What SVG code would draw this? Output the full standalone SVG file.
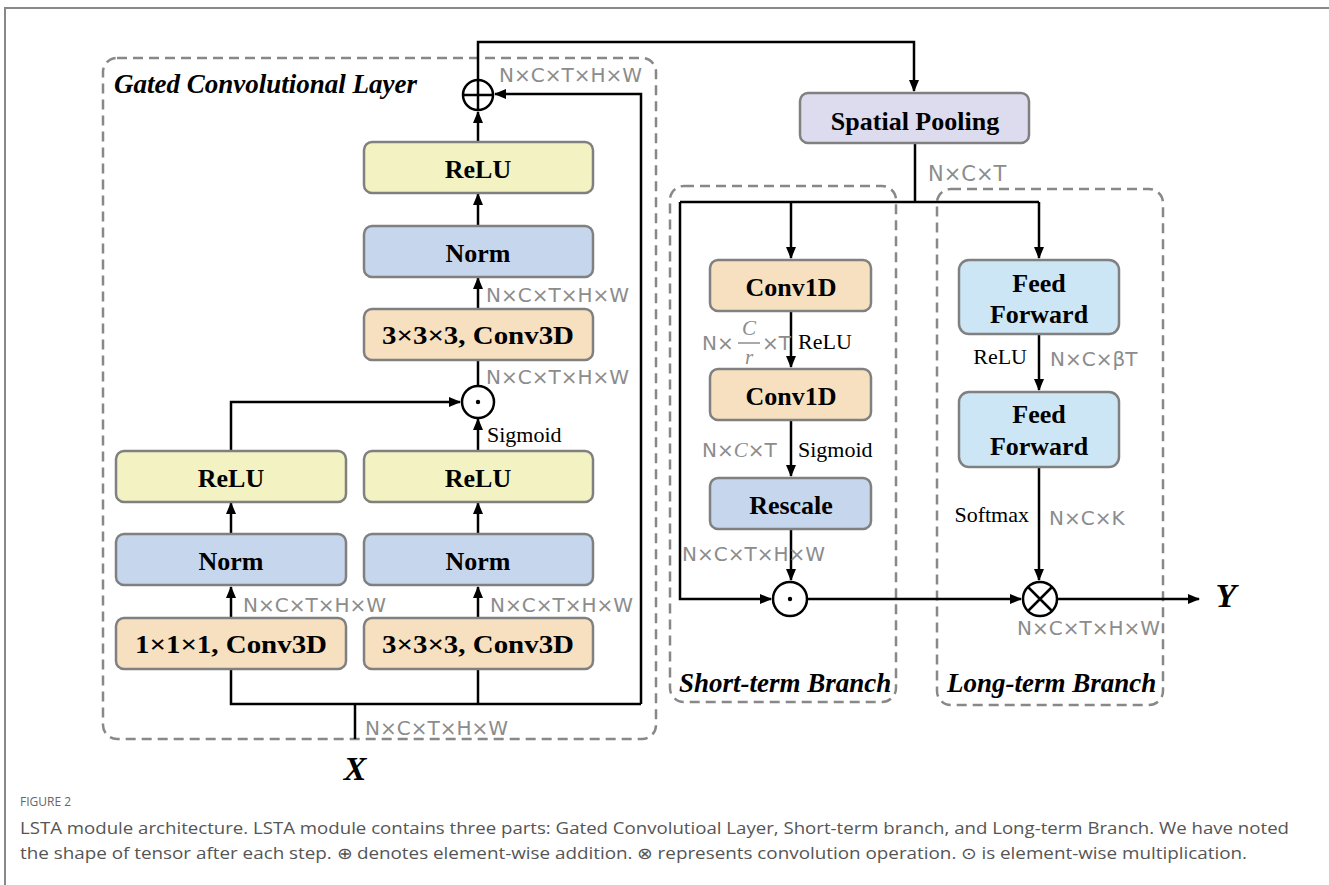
<svg xmlns="http://www.w3.org/2000/svg" width="1329" height="885" viewBox="0 0 1329 885">
<defs>
<marker id="ah" markerWidth="12" markerHeight="10" refX="11" refY="5" orient="auto" markerUnits="userSpaceOnUse">
<path d="M0,0 L12,5 L0,10 z" fill="#000"/>
</marker>
<style>
.box{stroke:#808080;stroke-width:2.5}
.yel{fill:#f2f2c2}
.blu{fill:#c6d6ed}
.org{fill:#f6e0bf}
.lbl{fill:#cde6f5}
.lav{fill:#dcdcee}
.bt{font-family:"Liberation Serif",serif;font-weight:bold;font-size:26px;fill:#000;text-anchor:middle}
.ttl{font-family:"Liberation Serif",serif;font-weight:bold;font-style:italic;font-size:27px;fill:#000}
.dash{fill:none;stroke:#888;stroke-width:2.5;stroke-dasharray:10,6}
.ln{fill:none;stroke:#000;stroke-width:2.5}
.g{font-family:"DejaVu Sans",sans-serif;font-size:20px;fill:#8c8c8c}
.gi{font-family:"Liberation Serif",serif;font-style:italic;font-size:21px;fill:#8c8c8c}
.rt{font-family:"Liberation Serif",serif;font-size:22px;fill:#000}
.cap{font-family:"Open Sans",sans-serif;font-size:16px;fill:#555}
.op{fill:#fff;stroke:#000;stroke-width:2.5}
</style>
</defs>
<rect width="1329" height="885" fill="#fff"/>
<path d="M5,885 V8 H1329" fill="none" stroke="#888" stroke-width="2"/>

<!-- group containers -->
<g id="gated-layer">
<rect class="dash" x="103" y="58" width="553" height="681" rx="14"/>
<text class="ttl" x="114" y="93">Gated Convolutional Layer</text>
</g>
<g id="short-term-branch">
<rect class="dash" x="670" y="186" width="226" height="516" rx="14"/>
<text class="ttl" x="679" y="692">Short-term Branch</text>
</g>
<g id="long-term-branch">
<rect class="dash" x="937" y="189" width="226" height="516" rx="14"/>
<text class="ttl" x="947" y="692">Long-term Branch</text>
</g>

<!-- connectors -->
<g id="connectors">
<path class="ln" d="M478,80 V42 H914 V91" marker-end="url(#ah)"/>
<path class="ln" d="M641,704 V94 H495" marker-end="url(#ah)"/>
<path class="ln" d="M478,142 V112" marker-end="url(#ah)"/>
<path class="ln" d="M478,226 V194" marker-end="url(#ah)"/>
<path class="ln" d="M478,309 V278" marker-end="url(#ah)"/>
<path class="ln" d="M478,385 V359"/>
<path class="ln" d="M231,451 V402 H460" marker-end="url(#ah)"/>
<path class="ln" d="M478,451 V419" marker-end="url(#ah)"/>
<path class="ln" d="M231,534 V503" marker-end="url(#ah)"/>
<path class="ln" d="M478,534 V503" marker-end="url(#ah)"/>
<path class="ln" d="M231,618 V587" marker-end="url(#ah)"/>
<path class="ln" d="M478,618 V587" marker-end="url(#ah)"/>
<path class="ln" d="M231,669 V704 H641"/>
<path class="ln" d="M478,669 V704"/>
<path class="ln" d="M355,704 V739"/>
<path class="ln" d="M915,143 V202"/>
<path class="ln" d="M680,202 H1039"/>
<path class="ln" d="M791,202 V258" marker-end="url(#ah)"/>
<path class="ln" d="M1039,202 V258" marker-end="url(#ah)"/>
<path class="ln" d="M680,202 V599 H771" marker-end="url(#ah)"/>
<path class="ln" d="M791,312 V367" marker-end="url(#ah)"/>
<path class="ln" d="M791,420 V476" marker-end="url(#ah)"/>
<path class="ln" d="M791,529 V580" marker-end="url(#ah)"/>
<path class="ln" d="M808,599 H1021" marker-end="url(#ah)"/>
<path class="ln" d="M1039,334 V390" marker-end="url(#ah)"/>
<path class="ln" d="M1039,467 V580" marker-end="url(#ah)"/>
<path class="ln" d="M1057,599 H1199" marker-end="url(#ah)"/>
</g>

<!-- operators -->
<g id="op-add">
<circle class="op" cx="478" cy="95" r="15"/>
<path class="ln" d="M463,95 H493 M478,80 V110"/>
</g>
<g id="op-mul-gate">
<circle class="op" cx="478" cy="402" r="16"/>
<circle cx="478" cy="402" r="2.2" fill="#000"/>
</g>
<g id="op-mul-short">
<circle class="op" cx="790" cy="599" r="17"/>
<circle cx="790" cy="599" r="2.2" fill="#000"/>
</g>
<g id="op-conv">
<circle class="op" cx="1040" cy="599" r="17"/>
<path class="ln" d="M1028,587 L1052,611 M1052,587 L1028,611"/>
</g>

<!-- gated layer nodes -->
<g id="relu-top"><rect class="box yel" x="364" y="142" width="229" height="51" rx="8"/><text class="bt" x="478" y="178">ReLU</text></g>
<g id="norm-top"><rect class="box blu" x="364" y="226" width="229" height="51" rx="8"/><text class="bt" x="478" y="262">Norm</text></g>
<g id="conv3d-top"><rect class="box org" x="364" y="309" width="229" height="51" rx="8"/><text class="bt" x="478" y="344" textLength="192" lengthAdjust="spacingAndGlyphs">3×3×3, Conv3D</text></g>
<g id="relu-left"><rect class="box yel" x="116" y="451" width="230" height="51" rx="8"/><text class="bt" x="231" y="487">ReLU</text></g>
<g id="relu-right"><rect class="box yel" x="364" y="451" width="229" height="51" rx="8"/><text class="bt" x="478" y="487">ReLU</text></g>
<g id="norm-left"><rect class="box blu" x="116" y="534" width="230" height="51" rx="8"/><text class="bt" x="231" y="570">Norm</text></g>
<g id="norm-right"><rect class="box blu" x="364" y="534" width="229" height="51" rx="8"/><text class="bt" x="478" y="570">Norm</text></g>
<g id="conv-1x1"><rect class="box org" x="116" y="618" width="230" height="51" rx="8"/><text class="bt" x="231" y="653" textLength="192" lengthAdjust="spacingAndGlyphs">1×1×1, Conv3D</text></g>
<g id="conv-3x3"><rect class="box org" x="364" y="618" width="229" height="51" rx="8"/><text class="bt" x="478" y="653" textLength="192" lengthAdjust="spacingAndGlyphs">3×3×3, Conv3D</text></g>

<!-- right side nodes -->
<g id="spatial-pooling"><rect class="box lav" x="800" y="93" width="229" height="50" rx="8"/><text class="bt" x="915" y="130">Spatial Pooling</text></g>
<g id="conv1d-1"><rect class="box org" x="710" y="260" width="161" height="51" rx="8"/><text class="bt" x="791" y="296">Conv1D</text></g>
<g id="conv1d-2"><rect class="box org" x="710" y="369" width="161" height="51" rx="8"/><text class="bt" x="791" y="405">Conv1D</text></g>
<g id="rescale"><rect class="box blu" x="710" y="478" width="161" height="51" rx="8"/><text class="bt" x="791" y="514">Rescale</text></g>
<g id="ff-1"><rect class="box lbl" x="959" y="260" width="160" height="74" rx="10"/><text class="bt" x="1039" y="292">Feed</text><text class="bt" x="1039" y="323">Forward</text></g>
<g id="ff-2"><rect class="box lbl" x="959" y="392" width="160" height="75" rx="10"/><text class="bt" x="1039" y="423">Feed</text><text class="bt" x="1039" y="455">Forward</text></g>

<!-- labels -->
<g id="labels">
<text class="g" x="499" y="82">N×C×T×H×W</text>
<text class="g" x="486" y="302">N×C×T×H×W</text>
<text class="g" x="486" y="384">N×C×T×H×W</text>
<text class="rt" x="487" y="442">Sigmoid</text>
<text class="g" x="243" y="612">N×C×T×H×W</text>
<text class="g" x="490" y="612">N×C×T×H×W</text>
<text class="g" x="365" y="735">N×C×T×H×W</text>
<text class="g" x="928" y="181" style="font-size:21px">N×C×T</text>
<text class="g" x="702" y="350">N×</text>
<path d="M738,343 H760" stroke="#8c8c8c" stroke-width="1.5"/>
<text class="gi" x="749" y="335" text-anchor="middle">C</text>
<text class="gi" x="749" y="364" text-anchor="middle">r</text>
<text class="g" x="762" y="350">×T</text>
<text class="rt" x="798" y="349">ReLU</text>
<text class="g" x="702" y="457">N×<tspan style="font-family:'Liberation Serif',serif;font-style:italic;font-size:21px">C</tspan>×T</text>
<text class="rt" x="798" y="457">Sigmoid</text>
<text class="g" x="682" y="561">N×C×T×H×W</text>
<text class="rt" x="1027" y="364" text-anchor="end">ReLU</text>
<text class="g" x="1050" y="366">N×C×βT</text>
<text class="rt" x="1029" y="522" text-anchor="end">Softmax</text>
<text class="g" x="1049" y="525">N×C×K</text>
<text class="g" x="1017" y="635">N×C×T×H×W</text>
<text x="355" y="780" text-anchor="middle" style="font-family:'Liberation Serif',serif;font-weight:bold;font-style:italic;font-size:34px">X</text>
<text x="1226" y="607" text-anchor="middle" style="font-family:'Liberation Serif',serif;font-weight:bold;font-style:italic;font-size:34px">Y</text>
</g>

<!-- caption -->
<g id="caption">
<text x="20" y="806" style="font-family:'Open Sans',sans-serif;font-size:12px;fill:#666">FIGURE 2</text>
<text class="cap" x="20" y="834" textLength="1269" lengthAdjust="spacingAndGlyphs">LSTA module architecture. LSTA module contains three parts: Gated Convolutioal Layer, Short-term branch, and Long-term Branch. We have noted</text>
<text class="cap" x="20" y="859" textLength="1227" lengthAdjust="spacingAndGlyphs">the shape of tensor after each step. ⊕ denotes element-wise addition. ⊗ represents convolution operation. ⊙ is element-wise multiplication.</text>
</g>
</svg>
